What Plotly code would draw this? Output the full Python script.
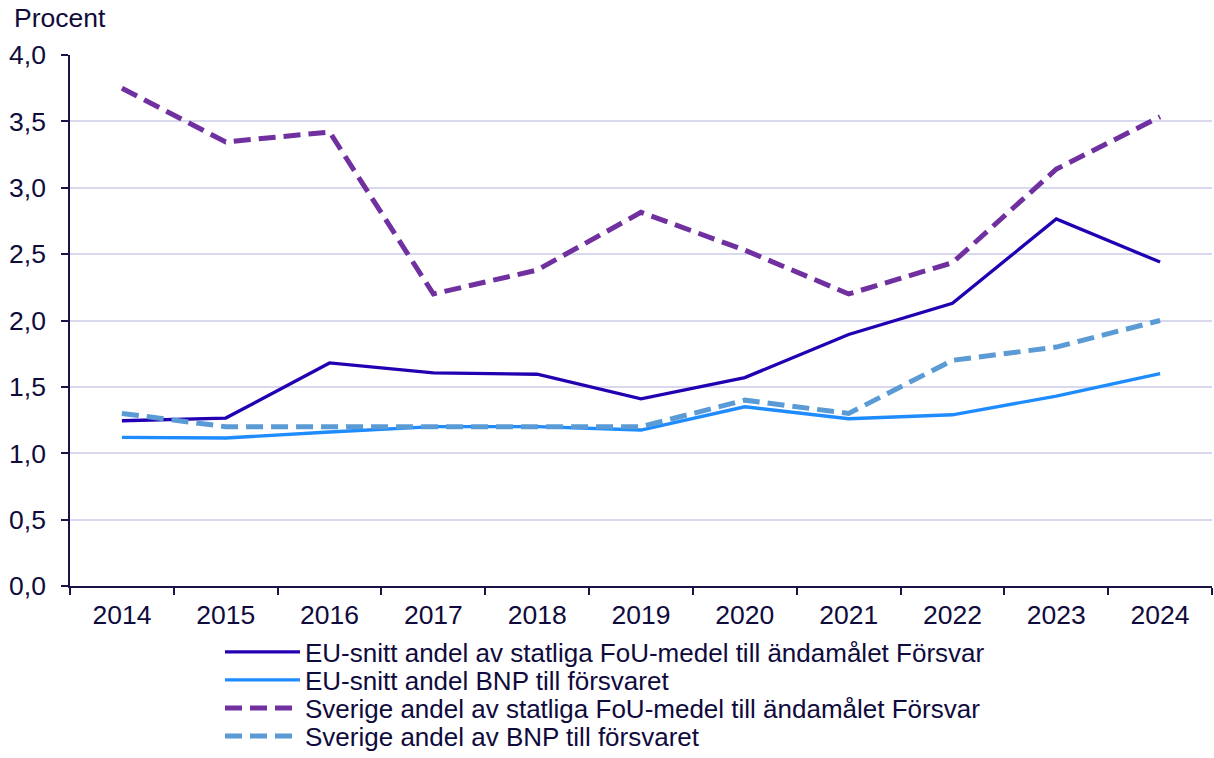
import plotly.graph_objects as go

years = ["2014", "2015", "2016", "2017", "2018", "2019", "2020", "2021", "2022", "2023", "2024"]
eu_fou = [1.245, 1.265, 1.68, 1.605, 1.595, 1.41, 1.57, 1.895, 2.13, 2.765, 2.44]
eu_bnp = [1.12, 1.115, 1.16, 1.2, 1.2, 1.175, 1.35, 1.26, 1.29, 1.43, 1.6]
se_fou = [3.75, 3.345, 3.42, 2.2, 2.38, 2.815, 2.53, 2.2, 2.435, 3.14, 3.535]
se_bnp = [1.3, 1.2, 1.2, 1.2, 1.2, 1.2, 1.4, 1.3, 1.7, 1.8, 2.0]

names = [
    "EU-snitt andel av statliga FoU-medel till ändamålet Försvar",
    "EU-snitt andel BNP till försvaret",
    "Sverige andel av statliga FoU-medel till ändamålet Försvar",
    "Sverige andel av BNP till försvaret",
]
y_ticks = [0, 0.5, 1.0, 1.5, 2.0, 2.5, 3.0, 3.5, 4.0]

TXT = "#0F0B3C"
AX = "#1A1446"
FONT = "Liberation Sans, Arial, sans-serif"
FS = 26.5
LEG_FS = 26

# plot area in pixels
L, R, T, B = 70, 1212, 55, 586
W, H = 1214, 758
PH = B - T

fig = go.Figure()
fig.add_trace(go.Scatter(x=years, y=eu_fou, name=names[0], mode="lines",
                         line=dict(color="#2200B2", width=3.3), legend="legend"))
fig.add_trace(go.Scatter(x=years, y=eu_bnp, name=names[1], mode="lines",
                         line=dict(color="#1E8CFF", width=3.3), legend="legend2"))
fig.add_trace(go.Scatter(x=years, y=se_fou, name=names[2], mode="lines",
                         line=dict(color="#7030A0", width=5, dash="17px,8px"),
                         legend="legend3"))
fig.add_trace(go.Scatter(x=years, y=se_bnp, name=names[3], mode="lines",
                         line=dict(color="#5B9BD5", width=5, dash="17px,8px"),
                         legend="legend4"))

legend_centers = [652, 680, 708, 736]
leg_common = dict(xanchor="left", yanchor="middle", orientation="v",
                  font=dict(family=FONT, size=LEG_FS, color=TXT), itemwidth=75,
                  bgcolor="rgba(0,0,0,0)", borderwidth=0)
lx = (220 - L) / (R - L)
legends = {}
for i, yc in enumerate(legend_centers):
    key = "legend" if i == 0 else f"legend{i+1}"
    legends[key] = dict(x=lx, y=(B - yc) / PH, **leg_common)

fig.update_layout(
    width=W, height=H,
    margin=dict(l=L, r=W - R, t=T, b=H - B, autoexpand=False),
    paper_bgcolor="white", plot_bgcolor="white",
    separators=", ",
    font=dict(family=FONT, size=FS, color=TXT),
    showlegend=True,
    **legends,
)
fig.add_annotation(text="Procent", xref="paper", yref="paper",
                   x=(12 - L) / (R - L), y=1.0, xanchor="left", yanchor="middle",
                   yshift=T - 18, showarrow=False,
                   font=dict(family=FONT, size=FS, color=TXT))

fig.update_xaxes(
    type="category", tickson="boundaries", ticks="outside", ticklen=7,
    tickcolor=AX, tickwidth=1.5,
    showline=True, linecolor=AX, linewidth=1.5,
    showgrid=False, tickfont=dict(family=FONT, size=FS, color=TXT),
    ticklabelstandoff=4,
    range=[-0.5, 10.5],
)
fig.update_yaxes(
    range=[0, 4.0], tickvals=y_ticks, tickformat=".1f",
    ticks="outside", ticklen=7, tickcolor=AX, tickwidth=1.5,
    showline=True, linecolor=AX, linewidth=1.5,
    showgrid=True, gridcolor="#D8D8EE", gridwidth=1.5,
    zeroline=False, tickfont=dict(family=FONT, size=FS, color=TXT),
    ticklabelstandoff=10,
)

fig.write_html("out.html", config={"displayModeBar": False},
               post_script="document.body.style.margin='0';")
